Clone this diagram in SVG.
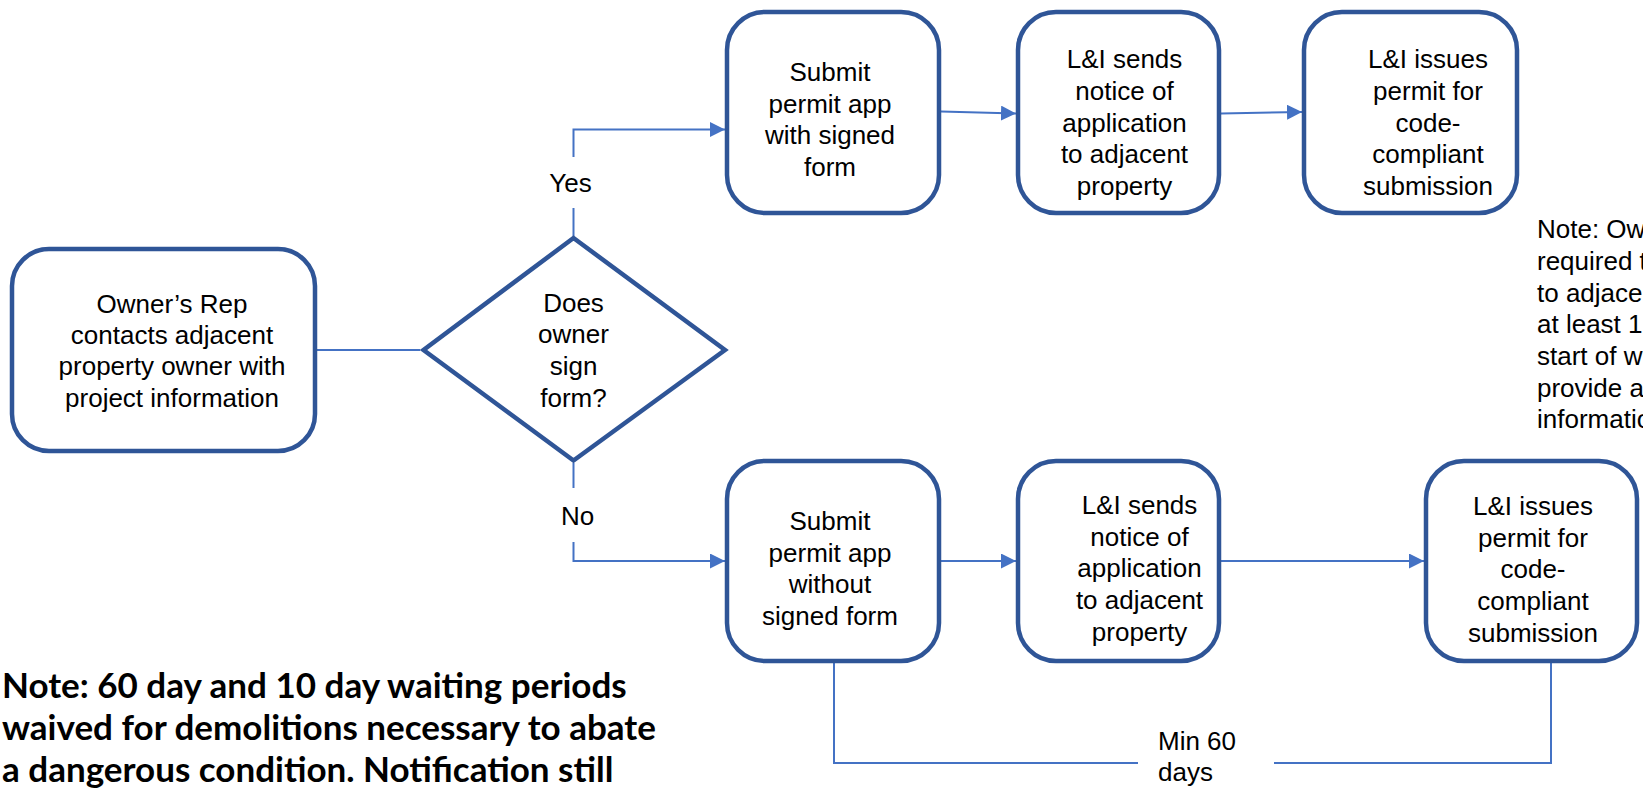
<svg xmlns="http://www.w3.org/2000/svg" width="1643" height="789" viewBox="0 0 1643 789">
<defs>
<style>
.box{fill:#ffffff;stroke:#2F5597;stroke-width:4.5;stroke-miterlimit:10}
.t{font-family:"Liberation Sans",Arial,sans-serif;font-size:26px;fill:#000000;text-anchor:middle}
.tl{font-family:"Liberation Sans",Arial,sans-serif;font-size:26px;fill:#000000;text-anchor:start}
.b{font-family:Lato,"Open Sans",sans-serif;font-weight:700;font-size:35px;fill:#000000}
.c{fill:none;stroke:#4472C4;stroke-width:2}
</style>
<marker id="arr" markerUnits="userSpaceOnUse" markerWidth="16" markerHeight="16" refX="15" refY="7.5" orient="auto">
<path d="M0,0 L15,7.5 L0,15 z" fill="#4472C4"/>
</marker>
</defs>
<rect width="1643" height="789" fill="#ffffff"/>
<g id="connectors">
<path class="c" d="M317,350 H420"/>
<path class="c" d="M573.5,236 V208"/>
<path class="c" d="M573.5,157 V129.5 H725" marker-end="url(#arr)"/>
<path class="c" d="M573.5,463 V488"/>
<path class="c" d="M573.5,542 V561 H725" marker-end="url(#arr)"/>
<path class="c" d="M941,111.5 L1016,113.5" marker-end="url(#arr)"/>
<path class="c" d="M1221,113.5 L1302,112" marker-end="url(#arr)"/>
<path class="c" d="M941,561 H1016" marker-end="url(#arr)"/>
<path class="c" d="M1221,561 H1424" marker-end="url(#arr)"/>
<path class="c" d="M834,663 V763 H1138"/>
<path class="c" d="M1274,763 H1551 V663"/>
</g>
<g id="owner">
<rect class="box" x="12" y="249" width="303" height="202" rx="37"/>
<text class="t" x="172"><tspan x="172" y="312.5">Owner’s Rep</tspan><tspan x="172" y="343.5">contacts adjacent</tspan><tspan x="172" y="375">property owner with</tspan><tspan x="172" y="406.5">project information</tspan></text>
</g>
<g id="decision">
<path class="box" d="M573.5,238 L725,350 L573.5,460.5 L423.5,350 Z"/>
<text class="t"><tspan x="573.5" y="311.7">Does</tspan><tspan x="573.5" y="343.3">owner</tspan><tspan x="573.5" y="375">sign</tspan><tspan x="573.5" y="406.7">form?</tspan></text>
</g>
<g id="label-yes"><text class="t" x="570.5" y="191.7">Yes</text></g>
<g id="label-no"><text class="t" x="577.5" y="525">No</text></g>
<g id="submit-signed">
<rect class="box" x="727" y="12" width="212" height="201" rx="38"/>
<text class="t"><tspan x="830" y="81">Submit</tspan><tspan x="830" y="112.7">permit app</tspan><tspan x="830" y="144.3">with signed</tspan><tspan x="830" y="176">form</tspan></text>
</g>
<g id="notice-top">
<rect class="box" x="1018" y="12" width="201" height="201" rx="38"/>
<text class="t"><tspan x="1124.5" y="68.3">L&amp;I sends</tspan><tspan x="1124.5" y="100">notice of</tspan><tspan x="1124.5" y="131.7">application</tspan><tspan x="1124.5" y="163.3">to adjacent</tspan><tspan x="1124.5" y="195">property</tspan></text>
</g>
<g id="permit-top">
<rect class="box" x="1304" y="12" width="213" height="201" rx="38"/>
<text class="t"><tspan x="1428" y="68.3">L&amp;I issues</tspan><tspan x="1428" y="100">permit for</tspan><tspan x="1428" y="131.7">code-</tspan><tspan x="1428" y="163.3">compliant</tspan><tspan x="1428" y="195">submission</tspan></text>
</g>
<g id="submit-unsigned">
<rect class="box" x="727" y="461" width="212" height="200" rx="38"/>
<text class="t"><tspan x="830" y="530">Submit</tspan><tspan x="830" y="561.7">permit app</tspan><tspan x="830" y="593.3">without</tspan><tspan x="830" y="625">signed form</tspan></text>
</g>
<g id="notice-bottom">
<rect class="box" x="1018" y="461" width="201" height="200" rx="38"/>
<text class="t"><tspan x="1139.5" y="514">L&amp;I sends</tspan><tspan x="1139.5" y="545.7">notice of</tspan><tspan x="1139.5" y="577.3">application</tspan><tspan x="1139.5" y="609">to adjacent</tspan><tspan x="1139.5" y="640.7">property</tspan></text>
</g>
<g id="permit-bottom">
<rect class="box" x="1426" y="461" width="211" height="200" rx="38"/>
<text class="t"><tspan x="1533" y="515">L&amp;I issues</tspan><tspan x="1533" y="546.7">permit for</tspan><tspan x="1533" y="578.3">code-</tspan><tspan x="1533" y="610">compliant</tspan><tspan x="1533" y="641.7">submission</tspan></text>
</g>
<g id="label-min60">
<text class="tl"><tspan x="1158" y="750">Min 60</tspan><tspan x="1158" y="781">days</tspan></text>
</g>
<g id="note-right">
<text class="tl"><tspan x="1537" y="238.3">Note: Ow</tspan><tspan x="1537" y="270">required t</tspan><tspan x="1537" y="301.7">to adjace</tspan><tspan x="1537" y="333.3">at least 1</tspan><tspan x="1537" y="365">start of w</tspan><tspan x="1537" y="396.7">provide a</tspan><tspan x="1537" y="428.3">informatio</tspan></text>
</g>
<g id="note-bottom">
<text class="b"><tspan x="2" y="698">Note: 60 day and 10 day waiting periods</tspan><tspan x="2" y="740">waived for demolitions necessary to abate</tspan><tspan x="2" y="782">a dangerous condition. Notification still</tspan></text>
</g>
</svg>
